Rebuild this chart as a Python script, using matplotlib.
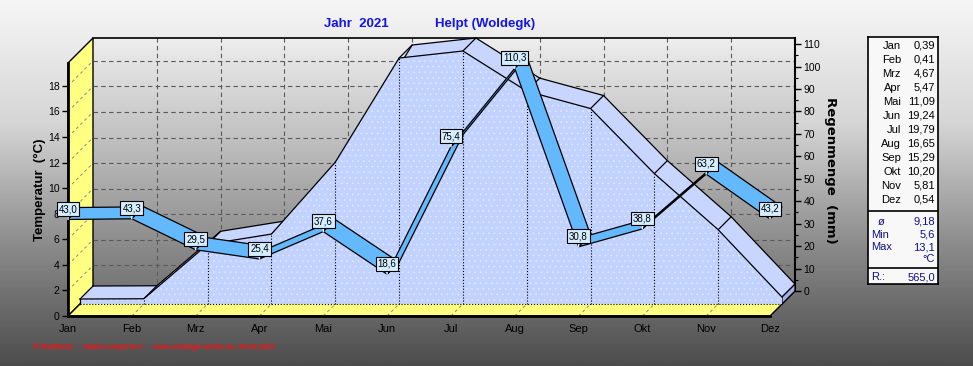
import matplotlib
matplotlib.use('Agg')
import matplotlib.pyplot as plt
import numpy as np
from matplotlib.patches import Polygon
from matplotlib.colors import LinearSegmentedColormap

plt.rcParams['font.family'] = ['Liberation Sans', 'DejaVu Sans']

# data
months = ['Jan', 'Feb', 'Mrz', 'Apr', 'Mai', 'Jun', 'Jul', 'Aug', 'Sep', 'Okt', 'Nov', 'Dez']
temp = [0.39, 0.41, 4.67, 5.47, 11.09, 19.24, 19.79, 16.65, 15.29, 10.20, 5.81, 0.54]
rain = [43.0, 43.3, 29.5, 25.4, 37.6, 18.6, 75.4, 110.3, 30.8, 38.8, 63.2, 43.2]
stat_names = ['ø', 'Min', 'Max']
stat_vals = [9.18, 5.6, 13.1]
rain_total = 565.0
title_year = 'Jahr  2021'
title_station = 'Helpt (Woldegk)'
footer = '© WsWin32  -  Station Helpt M-V  -  www.woldegk-wetter.de  09.04.2022'

def komma(v, n):
    return f'{v:.{n}f}'.replace('.', ',')

W, H = 973, 366
fig = plt.figure(figsize=(W / 100, H / 100), dpi=100)

# background gradient
bg = fig.add_axes([0, 0, 1, 1], zorder=-10)
grad = np.linspace(0, 1, 256).reshape(-1, 1)
bg_cmap = LinearSegmentedColormap.from_list('bg', ['#f6f6f6', '#d6d6d6', '#8c8c8c', '#4c4c4c'])
bg.imshow(grad, aspect='auto', cmap=bg_cmap, extent=[0, 1, 0, 1])
bg.axis('off')

# geometry of the pseudo 3d box (pixels)
x0, y0, pw, ph = 68, 50, 702, 253
depth = 25
tmax = max(temp)
rmax = 112.7
n = len(months) - 1

# back wall
axb = fig.add_axes([(x0 + depth) / W, (y0 + depth) / H, pw / W, ph / H], zorder=0)
wall_cmap = LinearSegmentedColormap.from_list('wall', ['#eeeeee', '#b4b4b4', '#747474'])
axb.imshow(grad, aspect='auto', cmap=wall_cmap, extent=[0, n, 0, tmax], zorder=0)
axb.set_xlim(0, n)
axb.set_ylim(0, tmax)
axb.set_xticks(range(1, n))
axb.set_yticks(np.arange(2, 19, 2))
axb.grid(True, ls=(0, (4, 3)), color='#5a5a5a', lw=0.8)
axb.tick_params(length=0, labelleft=False, labelbottom=False)
for s in ['left', 'bottom', 'right']:
    axb.spines[s].set_visible(False)
axb.spines['top'].set_linewidth(1.2)

axr = axb.twinx()
axr.set_ylim(0, rmax)
axr.set_yticks(range(0, 111, 10))
axr.set_yticks(range(0, 111, 5), minor=True)
axr.tick_params(axis='y', labelsize=7.5, length=4, width=1, pad=2)
axr.tick_params(axis='y', which='minor', length=2, width=0.8)
for s in ['left', 'bottom', 'top']:
    axr.spines[s].set_visible(False)
axr.spines['right'].set_linewidth(1.5)

# front plane
ax = fig.add_axes([x0 / W, y0 / H, pw / W, ph / H], zorder=1)
ax.patch.set_visible(False)
ax.set_xlim(0, n)
ax.set_ylim(0, tmax)
dx = depth * n / pw
dy = depth * tmax / ph

yellow = '#ffff82'
ax.add_patch(Polygon([(0, 0), (0, tmax), (dx, tmax + dy), (dx, dy)], fc=yellow, ec='black', lw=1, clip_on=False, zorder=1))
ax.add_patch(Polygon([(0, 0), (n, 0), (n + dx, dy), (dx, dy)], fc=yellow, ec='black', lw=1, clip_on=False, zorder=1))
for t in np.arange(2, 19, 2):
    ax.plot([0, dx], [t, t + dy], ls=(0, (3, 3)), color='#8a8a8a', lw=0.7, clip_on=False, zorder=1.1)
for i in range(1, n):
    ax.plot([i, i + dx], [0, dy], ls=(0, (3, 3)), color='#8a8a8a', lw=0.7, clip_on=False, zorder=1.1)

# temperature slab
f = 12 / 25
xs = np.arange(len(months))
fx, fy = xs + f * dx, np.array(temp) + f * dy
bx, by = xs + dx, np.array(temp) + dy
area_c = '#c2d2ff'
ax.add_patch(Polygon(list(zip(fx, fy)) + list(zip(bx, by))[::-1], fc='#c8d6ff', ec='none', clip_on=False, zorder=2))
ax.plot(bx, by, color='black', lw=0.9, clip_on=False, zorder=2.1)
for i in range(len(xs)):
    ax.plot([fx[i], bx[i]], [fy[i], by[i]], color='black', lw=0.9, clip_on=False, zorder=2.1)
ax.add_patch(Polygon([(fx[-1], f * dy), (fx[-1], fy[-1]), (bx[-1], by[-1]), (bx[-1], dy)],
                     fc='#9fb0e4', ec='black', lw=0.9, clip_on=False, zorder=2.2))
front_poly = [(fx[0], f * dy)] + list(zip(fx, fy)) + [(fx[-1], f * dy)]
ax.add_patch(Polygon(front_poly, fc=area_c, ec='none', clip_on=False, zorder=3))
plt.rcParams['hatch.linewidth'] = 0.5
ax.add_patch(Polygon(front_poly, fill=False, hatch='...', ec='#dfe7ff', lw=0, clip_on=False, zorder=3.05))
for i in range(1, n):
    ax.plot([fx[i], fx[i]], [f * dy, fy[i]], color='black', ls=':', lw=0.8, clip_on=False, zorder=3.1)
ax.plot([fx[0], fx[-1]], [f * dy, f * dy], color='black', ls=':', lw=0.8, clip_on=False, zorder=3.1)
ax.plot([fx[0], fx[0]], [f * dy, fy[0]], color='black', lw=0.9, clip_on=False, zorder=3.2)
ax.plot(fx, fy, color='black', lw=0.9, clip_on=False, zorder=3.2)

ax.set_xticks(xs)
ax.set_xticklabels(months)
ax.set_yticks(np.arange(0, 19, 2))
ax.tick_params(axis='x', length=0, labelsize=8, pad=6)
ax.tick_params(axis='y', length=4, width=1, labelsize=7.5, pad=2)
for s in ['top', 'right']:
    ax.spines[s].set_visible(False)
for s in ['left', 'bottom']:
    ax.spines[s].set_linewidth(2)
    ax.spines[s].set_zorder(4)

# rain ribbon
ax2 = ax.twinx()
ax2.set_zorder(2)
ax2.set_ylim(0, rmax)
ax2.set_yticks([])
for s in ax2.spines.values():
    s.set_visible(False)
dyr = depth * rmax / ph
for i in range(n):
    ax2.add_patch(Polygon([(i, rain[i]), (i + 1, rain[i + 1]),
                           (i + 1 + f * dx, rain[i + 1] + f * dyr), (i + f * dx, rain[i] + f * dyr)],
                          fc='#64b8fc', ec='black', lw=0.9, clip_on=False, zorder=3))
for i, r in enumerate(rain):
    ax2.annotate(komma(r, 1), xy=(i, r), xytext=(0, 7.5), textcoords='offset points',
                 ha='center', va='center', fontsize=7, annotation_clip=False, zorder=5,
                 bbox=dict(boxstyle='square,pad=0.2', fc='#d4eeff', ec='black', lw=0.8),
                 arrowprops=dict(arrowstyle='-', color='white', lw=1, shrinkA=0, shrinkB=0))

# titles and labels
fig.text(356 / W, 1 - 24 / H, title_year, color='#1414e6', weight='bold', fontsize=9.5, ha='center', va='center')
fig.text(485 / W, 1 - 24 / H, title_station, color='#1414e6', weight='bold', fontsize=9.5, ha='center', va='center')
fig.text(40 / W, 1 - 190 / H, 'Temperatur  (°C)', rotation=90, weight='bold', fontsize=9.5, ha='center', va='center')
fig.text(830 / W, 1 - 170 / H, 'Regenmenge  (mm)', rotation=-90, weight='bold', fontsize=9.5,
         family='DejaVu Sans', ha='center', va='center')
fig.text(33 / W, 1 - 347 / H, footer, color='#ff1010', fontsize=5.2, weight='bold', ha='left', va='center')

# side panel
axp = fig.add_axes([868 / W, 1 - 284 / H, 70 / W, 247 / H])
axp.set_facecolor('#f8f8f8')
axp.set_xlim(0, 70)
axp.set_ylim(247, 0)
axp.set_xticks([])
axp.set_yticks([])
for s in axp.spines.values():
    s.set_linewidth(1.2)
for k, (m, t) in enumerate(zip(months, temp)):
    axp.text(33, 9 + 14 * k, m, ha='right', va='center', fontsize=8)
    axp.text(67, 9 + 14 * k, komma(t, 2), ha='right', va='center', fontsize=8)
axp.axhline(174, color='black', lw=1.2)
navy = '#10108c'
for k, (nm, v) in enumerate(zip(stat_names, stat_vals)):
    axp.text(10 if nm == 'ø' else 3, 185 + 12.5 * k, nm, ha='left', va='center', fontsize=8, color=navy)
    axp.text(67, 185 + 12.5 * k, komma(v, 2 if nm == 'ø' else 1), ha='right', va='center', fontsize=8, color=navy)
axp.text(67, 222, '°C', ha='right', va='center', fontsize=8, color=navy)
axp.axhline(231, color='black', lw=1.2)
axp.text(3, 240, 'R.:', ha='left', va='center', fontsize=8, color=navy)
axp.text(67, 240, komma(rain_total, 1), ha='right', va='center', fontsize=8, color=navy)

fig.savefig('out.png', dpi=100)
